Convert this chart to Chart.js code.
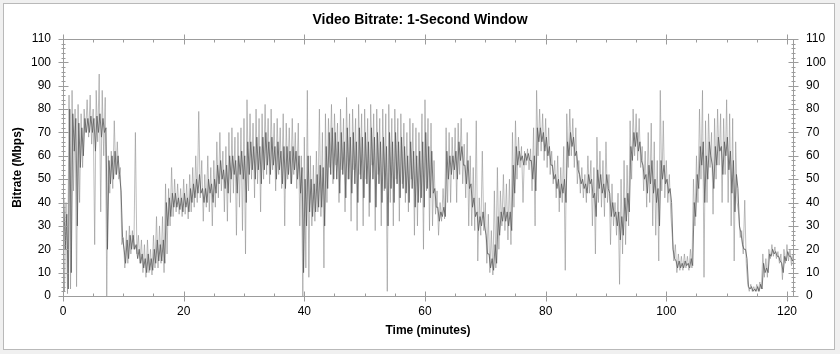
<!DOCTYPE html>
<html>
<head>
<meta charset="utf-8">
<script src="https://cdn.jsdelivr.net/npm/chart.js@4/dist/chart.umd.min.js"></script>
<style>
  body { margin: 0; background: #f0f0f0; }
  #panel { position: absolute; left: 3px; top: 3px; width: 830px; height: 345px; background: #fff; border: 1px solid #b9b9b9; }
  #bitrateChart { position: absolute; left: 0; top: 0; }
</style>
</head>
<body>
<div id="panel"></div>
<canvas id="bitrateChart" width="840" height="354"></canvas>
<script>
// readings every half minute (Mbps)
const step_minutes = 0.5
// outer spikes: highest and lowest 1-second value in each half minute
const bitrate_high = [
    45,40,86,88,80,82,78,80,84,86,   // 0 - 4.5
    80,88,95,88,85,60,62,75,66,55,   // 5
    25,28,30,28,70,26,24,22,24,20,   // 10
    26,34,30,34,48,46,55,50,48,46,   // 15
    50,48,52,55,60,79,58,52,60,55,   // 20
    58,66,70,62,64,70,72,68,70,72,   // 25
    76,84,78,74,80,76,78,82,76,80,   // 30
    74,76,72,78,74,72,76,70,74,60,   // 35
    68,88,60,56,62,80,70,78,76,82,   // 40
    78,74,80,76,85,78,80,76,82,78,   // 45
    80,76,82,78,80,76,80,78,82,76,   // 50
    80,76,78,74,70,76,74,72,70,78,   // 55
    84,76,74,58,45,40,46,72,70,68,   // 60
    72,74,76,65,70,60,55,75,42,62,   // 65
    40,35,28,45,55,45,52,48,50,70,   // 70
    75,68,64,62,63,63,72,88,80,78,   // 75
    76,72,62,58,60,55,64,78,80,76,   // 80
    72,58,55,52,60,58,55,68,62,58,   // 85
    66,52,48,40,44,50,58,56,75,80,   // 90
    78,76,64,62,70,74,66,58,88,75,   // 95
    58,52,25,22,18,17,18,17,20,50,   // 100
    60,80,88,75,78,70,76,80,78,76,   // 105
    84,78,76,66,35,28,41,5,5,4,      // 110
    5,6,18,16,20,22,21,19,18,20,     // 115
    22,20,18                         // 120
]
const bitrate_low = [
    2,1,3,45,4,40,55,70,68,65,
    22,66,36,60,0,44,46,52,50,22,
    12,14,18,20,18,14,10,8,10,9,
    12,12,14,10,18,30,34,36,35,34,
    35,33,36,38,40,42,32,38,36,30,
    38,42,45,36,32,40,44,26,38,28,
    18,45,50,42,48,36,50,52,48,54,
    45,52,46,30,50,48,52,46,30,0,
    12,8,30,32,36,34,12,40,55,48,
    56,40,54,36,50,32,54,28,52,30,
    50,34,56,28,52,30,45,2,40,30,
    50,32,48,40,36,50,26,30,40,20,
    45,28,30,35,26,32,33,40,40,50,
    40,52,48,42,30,30,28,15,26,28,
    14,10,9,12,20,30,28,24,22,38,
    50,55,40,56,54,45,30,60,62,58,
    55,52,48,42,36,40,11,55,60,55,
    48,44,42,40,44,30,18,40,38,34,
    40,22,30,26,5,18,22,30,50,60,
    58,55,45,38,40,30,26,15,45,42,
    40,35,15,10,11,11,12,11,12,30,
    40,50,8,40,55,35,50,56,40,52,
    40,30,15,40,25,18,14,2,2,2,
    2,3,8,8,16,17,16,14,7,14,
    15,13,14
]
// dense core of the trace: top and bottom of the dark band in each half minute
const core_high = [
    42,35,80,78,76,74,72,76,76,77,   // 0 - 4.5
    76,77,78,76,72,58,60,62,60,45,   // 5
    20,24,26,26,22,20,18,16,18,16,   // 10
    20,24,22,24,40,42,44,44,42,42,   // 15
    44,42,46,48,50,52,46,46,50,48,   // 20
    50,56,58,54,56,60,60,58,60,62,   // 25
    60,66,66,64,68,64,68,70,66,68,   // 30
    64,66,62,64,64,62,64,62,60,55,   // 35
    50,60,50,48,52,56,55,64,70,72,   // 40
    70,66,70,66,72,68,70,66,72,68,   // 45
    70,66,72,68,70,66,68,64,70,66,   // 50
    70,66,68,64,60,66,62,60,62,66,   // 55
    70,64,62,46,38,36,38,62,60,60,   // 60
    62,66,64,56,58,48,42,36,34,36,   // 65
    26,18,16,22,34,36,38,36,36,56,   // 70
    64,62,60,61,61,58,60,72,72,70,   // 75
    68,64,56,52,50,48,50,66,70,68,   // 80
    62,52,50,48,52,50,44,54,52,48,   // 85
    52,44,40,36,36,34,42,44,64,70,   // 90
    70,66,56,52,56,58,50,46,58,56,   // 95
    50,46,20,15,15,14,15,14,16,40,   // 100
    52,64,66,60,66,56,64,68,64,66,   // 105
    68,62,58,52,30,22,20,4,4,3,      // 110
    4,5,14,12,18,20,19,17,14,17,     // 115
    19,17,16                         // 120
]
const core_low = [
    20,3,10,62,30,55,60,70,70,70,
    62,70,68,70,20,48,50,52,52,25,
    14,16,20,20,16,14,12,10,11,11,
    14,15,15,14,30,34,38,38,37,36,
    38,36,40,42,44,44,40,40,44,40,
    44,48,50,46,44,50,52,44,52,50,
    40,52,54,50,54,48,54,56,52,56,
    50,54,48,46,52,48,54,50,44,10,
    30,36,34,36,38,38,30,46,52,50,
    50,44,52,42,50,44,48,40,50,42,
    48,40,50,38,48,40,46,30,46,40,
    48,42,46,44,40,46,38,40,42,38,
    46,42,44,38,32,34,34,50,52,54,
    50,58,56,48,46,38,34,28,30,30,
    18,12,11,14,26,32,32,30,28,44,
    56,58,56,58,58,50,45,66,66,62,
    60,56,50,46,42,44,40,60,64,60,
    54,48,46,44,48,42,34,46,44,42,
    46,34,34,30,24,26,32,36,58,64,
    62,58,50,44,48,44,40,30,50,48,
    44,40,16,12,12,12,13,12,13,34,
    46,56,40,50,60,46,56,62,52,60,
    54,44,36,46,27,20,16,3,2,2,
    2,3,10,10,17,18,17,15,10,15,
    17,15,15
]
const x_ticks = [0, 20, 40, 60, 80, 100, 120]
const y_ticks = [0, 10, 20, 30, 40, 50, 60, 70, 80, 90, 100, 110]

const font_family = "'Liberation Sans', Arial, sans-serif"

// zigzag between the top and bottom reading of each half minute
function buildPoints(high, low, offset){
    let points = []
    for(let i = 0; i < high.length; i++){
        points.push({x: i * step_minutes + offset, y: high[i]})
        points.push({x: i * step_minutes + offset + step_minutes / 2, y: low[i]})
    }
    return points
}

// frame round the plot with major and minor ticks
const frame_plugin = {
    id: 'frame',
    afterDatasetsDraw(chart){
        const {ctx, chartArea, scales} = chart
        const l = Math.round(chartArea.left) + 0.5, r = Math.round(chartArea.right) + 0.5
        const t = Math.round(chartArea.top) + 0.5, b = Math.round(chartArea.bottom) + 0.5
        ctx.save()
        ctx.strokeStyle = '#9c9c9c'
        ctx.lineWidth = 1
        ctx.strokeRect(l, t, r - l, b - t)
        ctx.beginPath()
        for(let v = 0; v <= 110; v += 2){
            const y = Math.round(scales.y.getPixelForValue(v)) + 0.5
            const len = v % 10 == 0 ? 5 : 2
            ctx.moveTo(l - len, y); ctx.lineTo(l + len, y)
            ctx.moveTo(r - len, y); ctx.lineTo(r + len, y)
        }
        for(let m = 0; m <= 120; m += 5){
            const x = Math.round(scales.x.getPixelForValue(m)) + 0.5
            const major = m % 20 == 0
            ctx.moveTo(x, b + (major ? 5 : 0)); ctx.lineTo(x, b - (major ? 5 : 3))
            ctx.moveTo(x, t - (major ? 5 : 0)); ctx.lineTo(x, t + (major ? 5 : 3))
        }
        ctx.stroke()
        ctx.restore()
    }
}

function yAxis(position, width, padding, showTitle){
    return {
        type: 'linear',
        position: position,
        min: 0,
        max: 110,
        afterBuildTicks: (s) => { s.ticks = y_ticks.map(v => ({value: v})) },
        afterFit: (s) => { s.width = width },
        grid: {display: false, drawTicks: false},
        border: {display: false},
        ticks: {padding: padding, color: '#000', font: {family: font_family, size: 12}},
        title: {
            display: showTitle,
            text: 'Bitrate (Mbps)',
            color: '#000',
            font: {family: font_family, size: 12, weight: 'bold'},
            padding: {top: 10, bottom: 10}
        }
    }
}

const config = {
    type: 'line',
    data: {
        datasets: [
            {
                label: 'Core',
                data: buildPoints(core_high, core_low, 0.125),
                borderColor: 'rgba(90, 90, 90, 0.8)',
                borderWidth: 1,
                pointRadius: 0,
                tension: 0,
                order: 0
            },
            {
                label: 'Spikes',
                data: buildPoints(bitrate_high, bitrate_low, 0),
                borderColor: 'rgba(145, 145, 145, 0.6)',
                borderWidth: 1,
                pointRadius: 0,
                tension: 0,
                order: 1
            }
        ]
    },
    options: {
        responsive: false,
        animation: false,
        layout: {padding: 0},
        plugins: {
            legend: {display: false},
            tooltip: {enabled: false},
            title: {
                display: true,
                text: 'Video Bitrate: 1-Second Window',
                color: '#000',
                font: {family: font_family, size: 14, weight: 'bold'},
                padding: {top: 11.6, bottom: 10.6}
            }
        },
        scales: {
            x: {
                type: 'linear',
                min: 0,
                max: 121,
                afterBuildTicks: (s) => { s.ticks = x_ticks.map(v => ({value: v})) },
                afterFit: (s) => { s.height = 58 },
                grid: {display: false, drawTicks: false},
                border: {display: false},
                ticks: {padding: 8, color: '#000', maxRotation: 0, font: {family: font_family, size: 12}},
                title: {
                    display: true,
                    text: 'Time (minutes)',
                    color: '#000',
                    font: {family: font_family, size: 12, weight: 'bold'},
                    padding: {top: 15.8, bottom: 15.8}
                }
            },
            y: yAxis('left', 63, 12, true),
            y2: yAxis('right', 47, 13, false)
        }
    },
    plugins: [frame_plugin]
}

new Chart(document.getElementById('bitrateChart'), config)
</script>
</body>
</html>
